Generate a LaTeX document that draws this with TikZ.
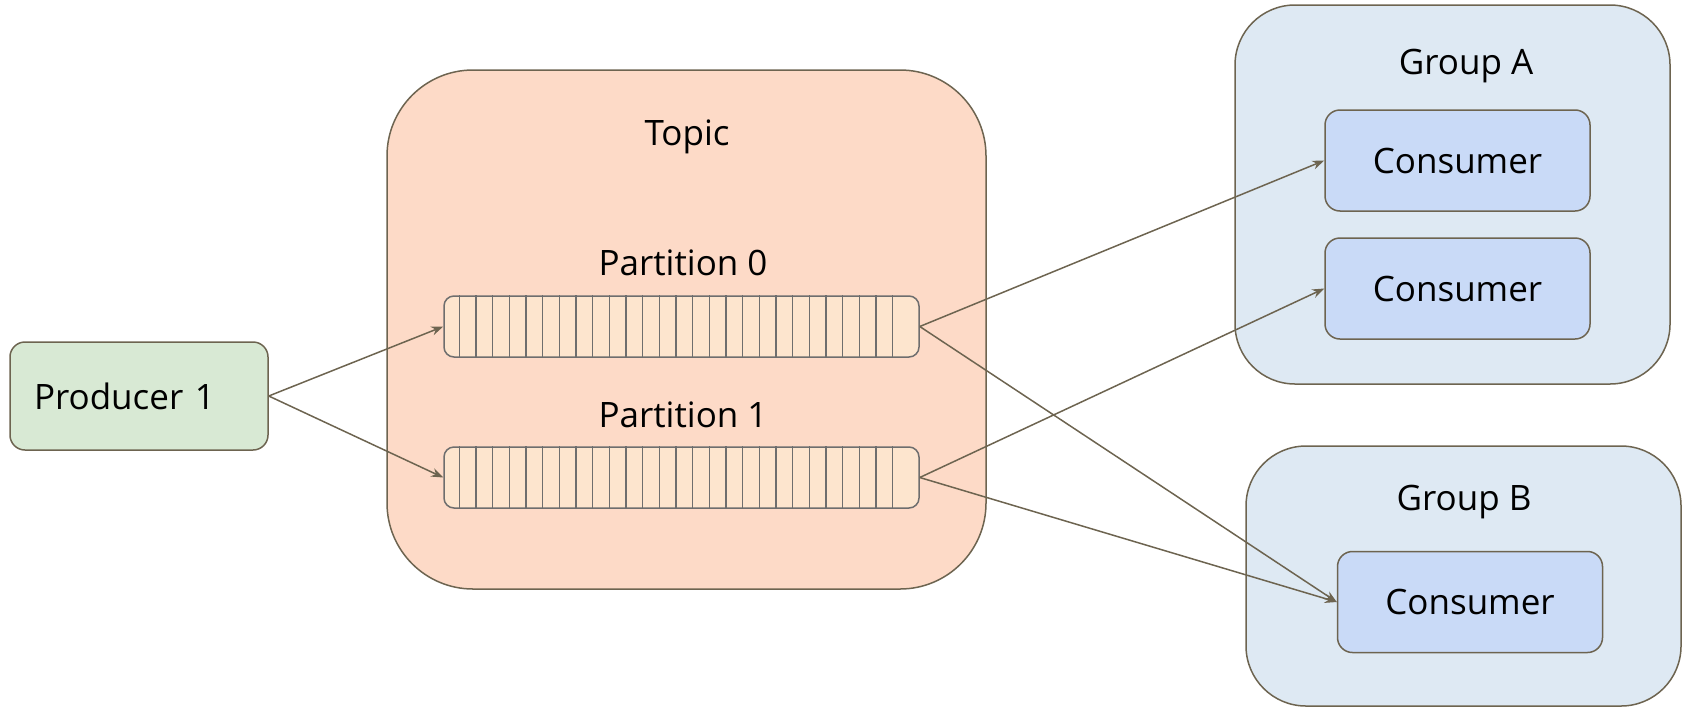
\documentclass[tikz,border=0pt]{standalone}
\usepackage{fontspec}
\setmainfont{Open Sans}
\usepackage{tikz}
\usetikzlibrary{shapes.geometric, arrows.meta}
\definecolor{edgecol}{HTML}{6D6450}
\definecolor{barcol}{HTML}{6E6E6E}
\definecolor{prodfill}{HTML}{D8E9D4}
\definecolor{topicfill}{HTML}{FDDAC7}
\definecolor{barfill}{HTML}{FDE5CE}
\definecolor{groupfill}{HTML}{DEE9F3}
\definecolor{consfill}{HTML}{C9DAF7}
\tikzstyle{producer} = [rectangle, rounded corners=7.5pt, minimum width=129pt, minimum height=54pt, inner xsep=12pt, inner ysep=0pt, text width=105pt, align=left, draw=edgecol, line width=0.75pt, fill=prodfill, font=\fontsize{17.5}{20}\selectfont]
\tikzstyle{topicbox} = [rectangle, rounded corners=43pt, minimum width=299.5pt, minimum height=259.5pt, inner sep=0pt, draw=edgecol, line width=0.75pt, fill=topicfill]
\tikzstyle{partbar} = [rectangle, rounded corners=5pt, minimum width=237.5pt, minimum height=30.5pt, inner sep=0pt, draw=barcol, line width=0.75pt, fill=barfill]
\tikzstyle{groupbox} = [rectangle, rounded corners=30pt, minimum width=217.5pt, inner sep=0pt, draw=edgecol, line width=0.75pt, fill=groupfill]
\tikzstyle{consumer} = [rectangle, rounded corners=7.5pt, minimum width=132.5pt, minimum height=50.5pt, inner sep=0pt, text centered, draw=edgecol, line width=0.75pt, fill=consfill, font=\fontsize{17.5}{20}\selectfont]
\tikzstyle{caption} = [inner sep=0pt, font=\fontsize{17.5}{20}\selectfont]
\tikzstyle{arrow} = [line width=0.75pt, draw=edgecol, ->, >={Stealth[length=6pt, width=4.5pt]}]

\begin{document}
\begin{tikzpicture}[x=0.5pt, y=-0.5pt]
		\useasboundingbox (0,0) rectangle (1684,707);
		\node (topic) [topicbox] at (686.5,329.5) {};
		\node (topiclbl) [caption] at (687,137) {Topic};
		\node (part0lbl) [caption] at (683,263) {Partition 0};
		\node (part1lbl) [caption] at (683,415) {Partition 1};
		\node (part0) [partbar] at (681.5,326.5) {};
		\node (part1) [partbar] at (681.5,477.5) {};
		\foreach \n in {0,1}
			\foreach \k in {0,...,26}
				\draw [barcol, line width=0.75pt] ([xshift={(16+16.67*\k)*0.5pt}]part\n.north west) -- ([xshift={(16+16.67*\k)*0.5pt}]part\n.south west);
		\node (prod) [producer] at (139,396) {Producer 1};
		\node (grpA) [groupbox, minimum height=189.5pt] at (1452.5,194.5) {};
		\node (grpAlbl) [caption] at (1466,66) {Group A};
		\node (consA1) [consumer] at (1457.5,160.5) {Consumer};
		\node (consA2) [consumer] at (1457.5,288.5) {Consumer};
		\node (grpB) [groupbox, minimum height=130pt] at (1463.5,576) {};
		\node (grpBlbl) [caption] at (1464,502) {Group B};
		\node (consB) [consumer] at (1470,602) {Consumer};
		\draw [arrow] (prod.east) -- (part0.west);
		\draw [arrow] (prod.east) -- (part1.west);
		\draw [arrow] (part0.east) -- (consA1.west);
		\draw [arrow] (part0.east) -- (consB.west);
		\draw [arrow] (part1.east) -- (consA2.west);
		\draw [arrow] (part1.east) -- (consB.west);
	\end{tikzpicture}
\end{document}
